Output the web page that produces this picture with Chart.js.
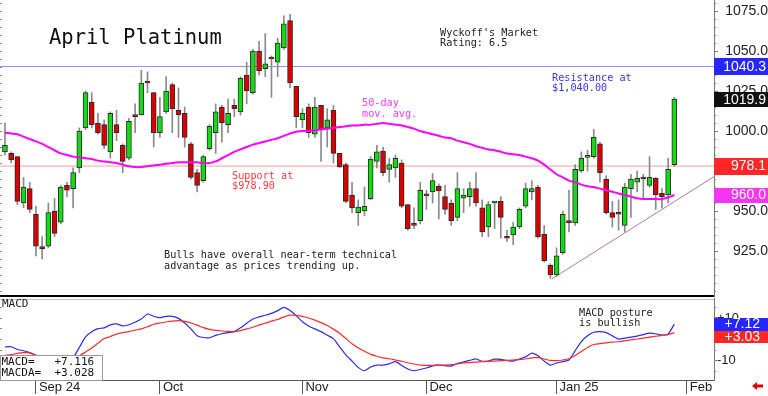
<!DOCTYPE html>
<html lang="en">
<head>
<meta charset="UTF-8">
<title>April Platinum</title>
<script src="https://cdn.jsdelivr.net/npm/chart.js"></script>
<style>
  body { margin: 0; background: #fff; }
  #wrap { position: relative; width: 768px; height: 396px; overflow: hidden; }
  #price { position: absolute; left: 0; top: 0; }
  #macd { position: absolute; left: 0; top: 297px; }
</style>
</head>
<body>
<div id="wrap">
  <canvas id="price" width="768" height="297"></canvas>
  <canvas id="macd" width="768" height="99"></canvas>
</div>
<script>
// daily candles, index 0 = late Aug 2024
const opens  = [987,986,984,955,964,948,927.5,928,950,943,966,964,977,1002,1018,1005,1004,987,1004,991,
  983,1009.5,1010,1031,1024,999,1012,1029,1013,1011,992,974,969,989,999,1015,1004,1016,1012,1035,
  1024,1050,1039,1046,1043,1052,1069,1028,1007,1015,998,1016,1002,1013,986,979,960,949,950,957.5,
  981,987.5,976,977,980,954,941.5,944,960.5,962,965.5,959,955,946,958,959,964,952,940,955,
  956,934,935,940,953,962,965,935.5,916,910,924,944,942.5,975,983.5,984,992,970,949,948.5,
  941,964,968,971,966,970.5,961,960,979];
const highs  = [1005,987,984,971,968,953,934,955,958,966,968,977,1002,1025,1024,1011,1007,1012,1013,992,
  1008,1017,1038,1037,1024,1021,1034,1030,1027,1015,993,976,985,1004,1017,1016,1020,1020,1034,1043,
  1051,1056,1061,1047,1058,1072,1073,1028,1014,1017,1021,1016,1014,1016,986,980,968,957,965,984,
  991,990,983,985,982,954,952,968,963,973.5,967,966,957,974,964,968,974,957,956,956,
  959,938,943,952,967.5,969,966,941,917,927,950,963,979,987,988,1001,993,972,956,957,
  967.5,973,975,973,984,971,964,983,1021];
const lows   = [985,980,954,952,949,922,920,927,934,942,959,952,974,1001,1002,998,989,983,994,974,
  982,999,1010,1024,990,996,1011,999,996,990,970,962,968,988,986,993,999,1009,1010,1017,
  1023,1035,1034,1021,1034,1051,1027,1002,1002,996,996,981,990,980,977,955,949,941,947,957,
  977,972,968,971,952,938,939,942,951,955,945,948,941,944,949,953,953,934,934,939,
  933,931,929,939,952,957,933,918,908,909,923,937,941,974,975,983,968,948,940,938,
  937,946,962,957,965,951,952,955,978];
const closes = [991,982,956,965,951,928,926.5,949,936,965,963,974,1000,1024,1004,999,991,1011,999,981,
  1006,1009,1030,1030,999,1009,1025,1014,1010,996,971,966,984,1003,1012,1005,1011,1014,1033,1025,
  1050,1037.5,1042,1045,1055,1067,1030,1009,1011,999,1015,1001,1007,986,977.5,956,952,952.5,953,982.5,
  987,974,979,983,953,939,941,963,959.5,969,962.5,951,944,964,960,964,955,937,954,956,
  946,933,940,951,964,964,934,919,910,922,948,942.5,976,983,984.5,996,974,949,946,948,
  965,970,970.5,970,971,960,959,976,1019.9];
const ma50 = [999,998.5,998,996.5,995,993.5,992,990,988,986,985,984,983.5,983,982.5,981.5,981,980.5,980,979,
  978,977.5,977.5,978,978.5,979,979.5,980,980.5,980.5,980.5,980.5,980,980,981,983,985,987,988.5,990,
  991.5,992.5,993.5,994.5,995.5,997,998.5,999.5,1000,1000,1000.5,1001,1001.5,1002,1002.5,1003,1003.5,1003.5,1004,1004,
  1004.5,1005,1004.5,1004,1003.5,1002.5,1001.5,1000,999,998,997,996,995.5,994,993,992,990.5,989.5,988.5,988,
  987,986,985.5,985,984,983,981.5,979,976,973,971,969,968,966.5,965.5,965,964,963,962,961,
  960,959,958,957.5,957.5,957.5,957.5,958.5,960];
const macdLine = [-3.8,-3.7,-5,-5.6,-6.5,-8,-9.5,-10.5,-11,-11,-10.5,-8.8,-4,1,3.5,4.9,5.3,6.7,7.2,6.2,
  6.8,8,9.5,11.9,10.8,10.1,10.8,10.8,9.8,7.6,4.8,1.6,0.7,0.6,1.7,2.5,3,3.5,5.3,7.5,
  9.5,10.5,11.3,12.2,13.5,15,13.5,11,8.2,6.2,4.8,3.5,1.8,0.2,-3.7,-7.5,-10.5,-13.5,-15.1,-13.3,
  -12.4,-12.4,-11.8,-10.8,-12.5,-14.3,-15.1,-14.5,-13.8,-12.8,-12.4,-12.7,-12.9,-11.6,-10.9,-10.2,-9.5,-10.6,-10.5,-9.6,
  -9.7,-10.2,-10.5,-9.5,-8.5,-6.7,-8,-10.5,-12.4,-11.4,-10.8,-10,-5.5,-1.2,1.5,3.2,3.5,3,1.5,0,
  0.4,0.9,1.4,2.1,2.8,2.5,1.9,2.4,7.1];
const macdSignal = [-7.8,-7.4,-6.8,-6.5,-6.6,-7.6,-8.5,-9.3,-9.8,-10.1,-10,-9.3,-8,-6.2,-4.3,-2,0.2,1.2,2.3,3,
  3.5,4.2,4.8,5.8,7,7.6,8.1,8.5,8.7,8.4,7.6,6.6,5.4,4.6,4.1,3.8,3.6,3.5,4,4.8,
  5.6,6.6,7.5,8.5,9.3,10.5,11.4,11.2,10.8,10,9,7.8,6.4,4.7,2.7,0.2,-2.3,-4.3,-5.8,-7.3,
  -8.2,-9,-9.4,-10,-10.6,-11.3,-11.9,-12.4,-12.5,-12.5,-12.4,-12.4,-12.2,-11.8,-11.4,-11.2,-11,-10.8,-10.6,-10.5,
  -10.3,-10.2,-10,-9.8,-9.5,-9,-8.9,-9.5,-10.2,-10.3,-10,-9.4,-7.8,-6,-4,-2.6,-2.2,-1.8,-1.5,-1.3,
  -0.8,-0.4,0,0.4,0.9,1.3,1.7,2.1,3];

const priceTicks = [925, 950, 975, 1000, 1025, 1050, 1075];
const priceMinorStep = 5;
const macdTicks = [-10, 0, 10];
const macdTickLabels = ['-10', '0', '+10'];
const macdMinorStep = 5;
const monthTickIdx = [5, 25, 48, 68, 89, 110];
const monthLabels = ['Sep 24', 'Oct', 'Nov', 'Dec', 'Jan 25', 'Feb'];

const resistance = 1040.3;
const support = 978.1;
const lastPrice = 1019.9;
const lastMa = 960.0;
const lastMacd = 7.116;
const lastSignal = 3.028;
const trendLine = [[88.2, 907.5], [114.4, 971.5]];

const xMin = -0.8, xMax = 114.4;
const priceMin = 896.9, priceMax = 1081.9;
const macdMin = -19.5, macdMax = 19.5;

const idx = closes.map((_, i) => i);
const GREEN = '#14dc14', RED = '#dc0000';
const MONO = 'DejaVu Sans Mono';
const SANS = 'Liberation Sans';

// keep the plot area glued to the canvas edges
function noPad(s) {
  s.paddingTop = 0; s.paddingBottom = 0; s.paddingLeft = 0; s.paddingRight = 0;
}

function textLines(ctx, lines, x, y, size, color, lh) {
  ctx.save();
  ctx.font = size + 'px "' + MONO + '"';
  ctx.fillStyle = color;
  ctx.textAlign = 'left';
  ctx.textBaseline = 'middle';
  lines.forEach((t, i) => ctx.fillText(t, x, y + i * lh));
  ctx.restore();
}

function tag(ctx, yc, h, text, bg, right) {
  ctx.save();
  ctx.fillStyle = bg;
  ctx.fillRect(714, Math.round(yc - h / 2), 54, h);
  ctx.fillStyle = '#fff';
  ctx.font = '14px "' + SANS + '"';
  ctx.textAlign = 'right';
  ctx.textBaseline = 'middle';
  ctx.fillText(text, right || 766, yc + 0.5);
  ctx.restore();
}

// small tick marks on both edges of a panel
function minorTicks(ctx, scale, step, right) {
  ctx.save();
  ctx.strokeStyle = '#888';
  ctx.lineWidth = 1;
  ctx.beginPath();
  const start = Math.ceil(scale.min / step) * step;
  for (let v = start; v <= scale.max; v += step) {
    const p = Math.round(scale.getPixelForValue(v)) + 0.5;
    ctx.moveTo(0, p); ctx.lineTo(2, p);
    ctx.moveTo(right, p); ctx.lineTo(right + 2, p);
  }
  ctx.stroke();
  ctx.restore();
}

const priceOverlay = {
  id: 'priceOverlay',
  afterDraw(chart) {
    const ctx = chart.ctx, y = chart.scales.y, a = chart.chartArea;
    minorTicks(ctx, y, priceMinorStep, a.right);
    ctx.save();
    ctx.fillStyle = '#000';
    ctx.fillRect(0, a.bottom - 1, a.right, 2);
    ctx.restore();

    textLines(ctx, ['April Platinum'], 49, 38.5, 20.5, '#111', 0);
    textLines(ctx, ["Wyckoff's Market", 'Rating: 6.5'], 440, 33, 10.2, '#222', 10.5);
    textLines(ctx, ['Resistance at', '$1,040.00'], 552, 78, 10.2, '#3535ff', 10.5);
    textLines(ctx, ['50-day', 'mov. avg.'], 362, 103.5, 10.2, '#ff3cff', 10.5);
    textLines(ctx, ['Support at', '$978.90'], 232, 176, 10.2, '#ff3c3c', 10.5);
    textLines(ctx, ['Bulls have overall near-term technical', 'advantage as prices trending up.'], 164, 255.5, 10.2, '#222', 10.5);

    tag(ctx, y.getPixelForValue(resistance), 17, resistance.toFixed(1), '#2626ff');
    tag(ctx, y.getPixelForValue(lastPrice), 15, lastPrice.toFixed(1), '#111');
    tag(ctx, y.getPixelForValue(support), 17, support.toFixed(1), '#ff2626');
    tag(ctx, y.getPixelForValue(lastMa), 15, lastMa.toFixed(1), '#f436f4');
  }
};

const macdOverlay = {
  id: 'macdOverlay',
  afterDraw(chart) {
    const ctx = chart.ctx, y = chart.scales.y, a = chart.chartArea;
    minorTicks(ctx, y, macdMinorStep, a.right);
    ctx.save();
    ctx.strokeStyle = '#f2b4b4';
    ctx.lineWidth = 1;
    ctx.beginPath();
    ctx.moveTo(0, 2.5);
    ctx.lineTo(a.right, 2.5);
    ctx.stroke();

    ctx.fillStyle = '#fff';
    ctx.fillRect(0, 58, 102, 25);
    ctx.strokeStyle = '#999';
    ctx.strokeRect(0.5, 58.5, 102, 25);
    ctx.restore();

    textLines(ctx, ['MACD'], 2, 7.5, 11, '#222', 0);
    textLines(ctx, ['MACD=   +' + lastMacd.toFixed(3), 'MACDA=  +' + lastSignal.toFixed(3)], 1.5, 65, 11, '#111', 11.5);
    textLines(ctx, ['MACD posture', 'is bullish'], 579, 16.5, 10.2, '#222', 10);

    const yb = y.getPixelForValue(lastMacd);
    tag(ctx, yb, 13, '+' + lastMacd.toFixed(2), '#2626ff', 760);
    tag(ctx, yb + 13, 12, '+' + lastSignal.toFixed(2), '#ff2626', 760);

    // little red arrow bottom right
    ctx.save();
    ctx.fillStyle = '#e00000';
    ctx.beginPath();
    ctx.moveTo(752, 89);
    ctx.lineTo(757, 85);
    ctx.lineTo(757, 87.5);
    ctx.lineTo(763, 87.5);
    ctx.lineTo(763, 90.5);
    ctx.lineTo(757, 90.5);
    ctx.lineTo(757, 93);
    ctx.closePath();
    ctx.fill();
    ctx.restore();
  }
};

new Chart(document.getElementById('price'), {
  type: 'bar',
  data: {
    datasets: [
      { type: 'line', data: [{ x: xMin, y: resistance }, { x: xMax, y: resistance }], borderColor: '#8c8cff', borderWidth: 1, pointRadius: 0, order: 6 },
      { type: 'line', data: [{ x: xMin, y: support }, { x: xMax, y: support }], borderColor: '#ff9c9c', borderWidth: 1, pointRadius: 0, order: 6 },
      { type: 'line', data: trendLine.map(p => ({ x: p[0], y: p[1] })), borderColor: '#b87898', borderWidth: 1, pointRadius: 0, order: 5 },
      { type: 'bar', data: idx.map(i => ({ x: i, y: [lows[i], highs[i]] })), backgroundColor: '#8a8a8a', barThickness: 1, grouped: false, order: 4 },
      { type: 'bar', data: idx.map(i => ({ x: i, y: [opens[i], closes[i]] })),
        backgroundColor: idx.map(i => closes[i] >= opens[i] ? GREEN : RED),
        borderColor: '#2a2a2a', borderWidth: 1, borderSkipped: false, barThickness: 5, minBarLength: 2, grouped: false, order: 3 },
      { type: 'line', data: idx.map(i => ({ x: i, y: ma50[i] })), borderColor: '#ff00ff', borderWidth: 2, pointRadius: 0, tension: 0.3, order: 2 }
    ]
  },
  options: {
    responsive: false, animation: false, devicePixelRatio: 1,
    layout: { padding: { left: 0, right: 0, top: 0, bottom: 1 }, autoPadding: false },
    plugins: { legend: { display: false }, tooltip: { enabled: false } },
    scales: {
      x: { type: 'linear', min: xMin, max: xMax, offset: false, display: false, afterFit: noPad },
      y: {
        position: 'right', min: priceMin, max: priceMax,
        afterFit: s => { s.width = 54; noPad(s); },
        afterBuildTicks: s => { s.ticks = priceTicks.map(v => ({ value: v })); },
        ticks: { callback: v => v.toFixed(1), color: '#222', font: { family: SANS, size: 14 }, crossAlign: 'far', padding: 5 },
        grid: { drawOnChartArea: false, tickLength: 4, color: '#777' },
        border: { color: '#777' }
      }
    }
  },
  plugins: [priceOverlay]
});

new Chart(document.getElementById('macd'), {
  type: 'line',
  data: {
    datasets: [
      { data: idx.map(i => ({ x: i, y: macdSignal[i] })), borderColor: '#ff2a2a', borderWidth: 1.2, pointRadius: 0, tension: 0.2 },
      { data: idx.map(i => ({ x: i, y: macdLine[i] })), borderColor: '#2a2aff', borderWidth: 1.2, pointRadius: 0, tension: 0.2 }
    ]
  },
  options: {
    responsive: false, animation: false, devicePixelRatio: 1,
    layout: { padding: { left: 0, right: 0, top: 1, bottom: 0 }, autoPadding: false },
    plugins: { legend: { display: false }, tooltip: { enabled: false } },
    scales: {
      x: {
        type: 'linear', min: xMin, max: xMax, offset: false,
        afterFit: s => { s.height = 16; noPad(s); },
        afterBuildTicks: s => { s.ticks = monthTickIdx.map(v => ({ value: v })); },
        ticks: { callback: (v, i) => monthLabels[i], align: 'start', labelOffset: 3, padding: -14, maxRotation: 0, autoSkip: false, color: '#222', font: { family: SANS, size: 13 } },
        grid: { drawOnChartArea: false, tickLength: 14, color: '#555' },
        border: { color: '#555' }
      },
      y: {
        position: 'right', min: macdMin, max: macdMax,
        afterFit: s => { s.width = 54; noPad(s); },
        afterBuildTicks: s => { s.ticks = macdTicks.map(v => ({ value: v })); },
        ticks: { callback: (v, i) => macdTickLabels[i], color: '#222', font: { family: SANS, size: 13 }, crossAlign: 'near', padding: 0 },
        grid: { drawOnChartArea: false, tickLength: 3, color: '#777' },
        border: { color: '#777' }
      }
    }
  },
  plugins: [macdOverlay]
});
</script>
</body>
</html>
